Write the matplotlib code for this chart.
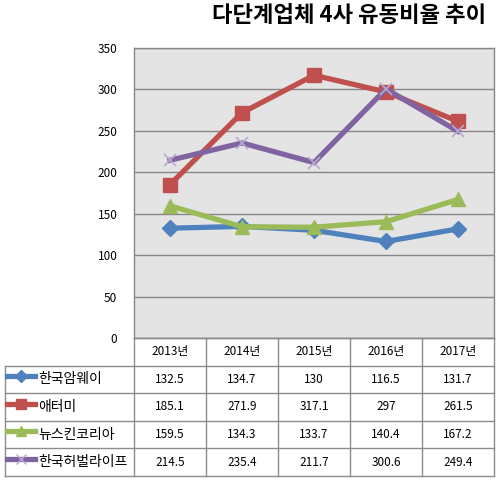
import matplotlib
matplotlib.use("Agg")
import matplotlib.pyplot as plt
import numpy as np

plt.rcParams['font.family'] = ['Noto Sans CJK KR', 'DejaVu Sans']

years = ['2013년', '2014년', '2015년', '2016년', '2017년']
names = ['한국암웨이', '애터미', '뉴스킨코리아', '한국허벌라이프']
amway = [132.5, 134.7, 130, 116.5, 131.7]
atomy = [185.1, 271.9, 317.1, 297, 261.5]
nuskin = [159.5, 134.3, 133.7, 140.4, 167.2]
herbalife = [214.5, 235.4, 211.7, 300.6, 249.4]
series = [amway, atomy, nuskin, herbalife]
value_labels = [['132.5', '134.7', '130', '116.5', '131.7'],
                ['185.1', '271.9', '317.1', '297', '261.5'],
                ['159.5', '134.3', '133.7', '140.4', '167.2'],
                ['214.5', '235.4', '211.7', '300.6', '249.4']]

colors = ['#4F81BD', '#C0504D', '#9BBB59', '#8064A2']
markers = ['D', 's', '^', 'x']
msizes = [8, 10, 10, 9]
grid_c = '#878787'

W, H = 501, 480
fig = plt.figure(figsize=(W / 100, H / 100), dpi=100)

# plot area in pixel terms
left, right, top, bottom = 134, 494, 48, 338
ax = fig.add_axes([left / W, 1 - bottom / H, (right - left) / W, (bottom - top) / H])
ax.set_facecolor('#E4E4E4')
x = np.arange(len(years))
for vals, c, m, ms in zip(series, colors, markers, msizes):
    mec = '#B9A8CF' if m == 'x' else c
    ax.plot(x, vals, color=c, lw=3.8, marker=m, ms=ms, mfc=c, mec=mec,
            mew=1.2 if m == 'x' else 1, solid_joinstyle='miter', zorder=3)
ax.set_xlim(-0.5, len(years) - 0.5)
ax.set_ylim(0, 350)
ax.set_yticks(range(0, 351, 50))
ax.set_xticks([])
ax.yaxis.grid(True, color=grid_c, lw=1)
ax.set_axisbelow(True)
ax.tick_params(axis='y', length=0, pad=12, labelsize=8.5)
for s in ax.spines.values():
    s.set_color(grid_c)
    s.set_linewidth(1)

fig.text(486 / W, 1 - 15 / H, '다단계업체 4사 유동비율 추이', ha='right', va='center',
         fontsize=16, fontweight='bold')

# data table under the plot
tl, tb = 5, 476
unit = (right - left) / len(years)
tax = fig.add_axes([tl / W, 1 - tb / H, (right - tl) / W, (tb - bottom) / H])
x0 = -0.5 - (left - tl) / unit
tax.set_xlim(x0, len(years) - 0.5)
nrows = len(names) + 1
tax.set_ylim(nrows, 0)
tax.axis('off')
lc = '#8C8C8C'
# horizontal lines
for r in range(1, nrows + 1):
    tax.plot([x0, len(years) - 0.5], [r, r], color=lc, lw=1, clip_on=False)
tax.plot([-0.5, len(years) - 0.5], [0, 0], color=lc, lw=1, clip_on=False)
# vertical lines
for i in range(len(years) + 1):
    tax.plot([i - 0.5, i - 0.5], [0, nrows], color=lc, lw=1, clip_on=False)
tax.plot([x0, x0], [1, nrows], color=lc, lw=1, clip_on=False)

for i, yl in enumerate(years):
    tax.text(i, 0.5, yl, ha='center', va='center', fontsize=8.5)
for r, (nm, labs, c, m, ms) in enumerate(zip(names, value_labels, colors, markers, msizes)):
    yy = r + 1.5
    kx0 = x0 + 2 / unit
    kx1 = x0 + 30 / unit
    mec = '#B9A8CF' if m == 'x' else c
    tax.plot([kx0, kx1], [yy - 0.12, yy - 0.12], color=c, lw=3.8, clip_on=False)
    tax.plot([(kx0 + kx1) / 2], [yy - 0.12], marker=m, ms=ms * 0.75, color=c,
             mec=mec, clip_on=False)
    tax.text(x0 + 33 / unit, yy, nm, ha='left', va='center', fontsize=10)
    for i, lab in enumerate(labs):
        tax.text(i, yy, lab, ha='center', va='center', fontsize=8.5)

fig.savefig('out.png', dpi=100)
